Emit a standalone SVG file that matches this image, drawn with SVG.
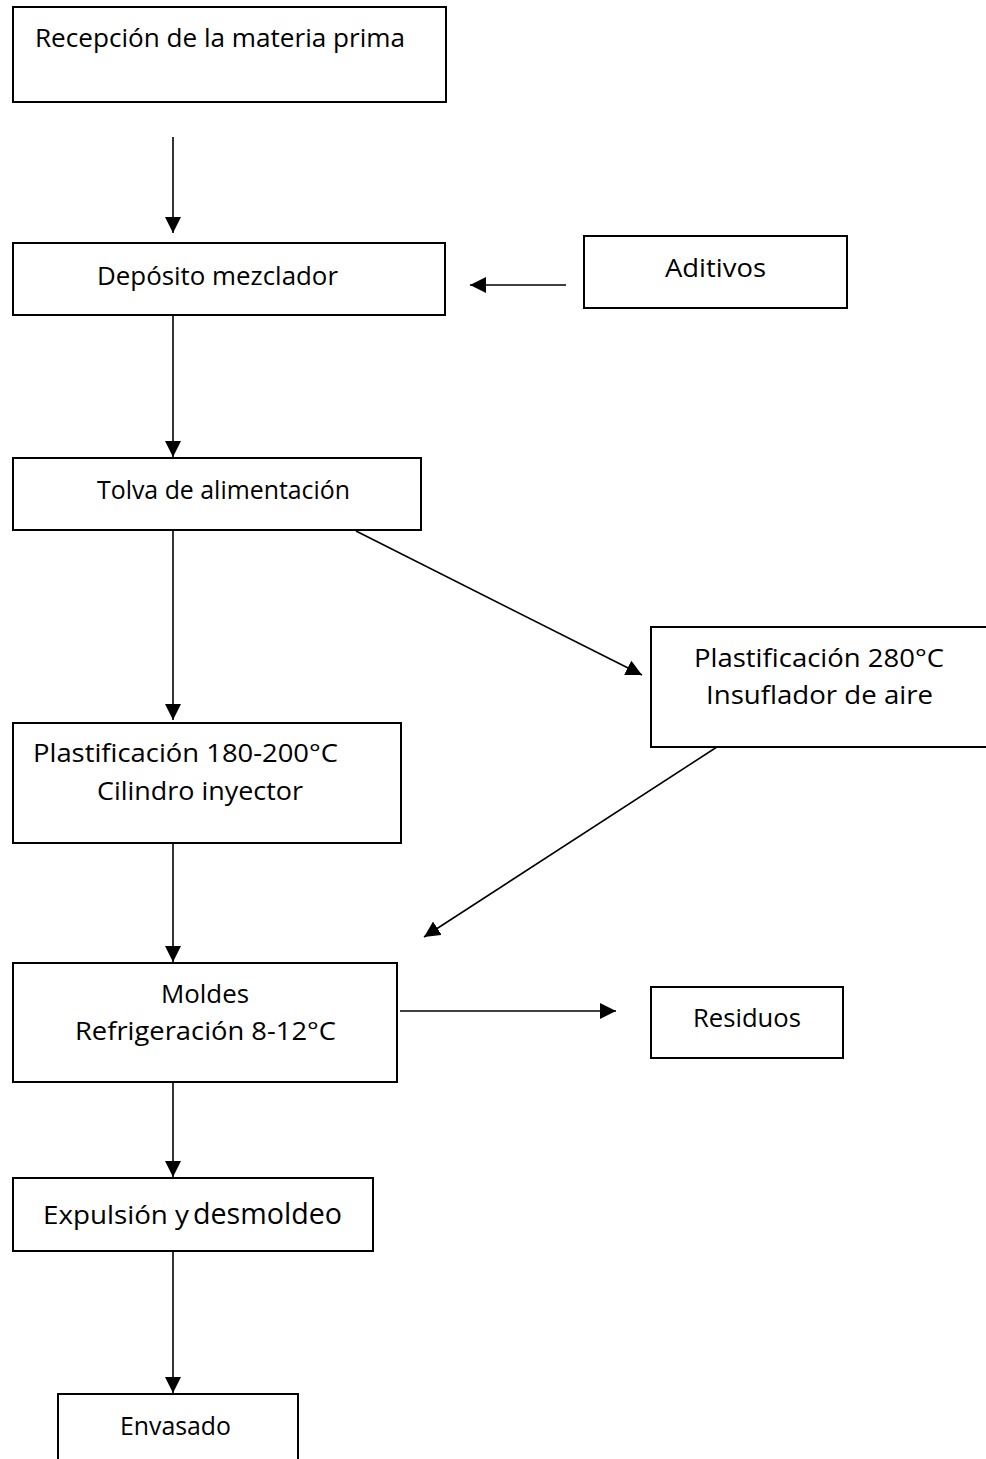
<svg xmlns="http://www.w3.org/2000/svg" width="986" height="1459" viewBox="0 0 986 1459">
  <style>
    .box { fill: #ffffff; stroke: #000000; stroke-width: 2; }
    .lbl { font-family: "Open Sans", "DejaVu Sans", sans-serif; font-size: 25px; fill: #000000; }
    .big { font-size: 29px; }
    .wire { stroke: #000000; stroke-width: 1.6; fill: none; marker-end: url(#head); }
  </style>
  <defs>
    <marker id="head" markerUnits="userSpaceOnUse" markerWidth="18" markerHeight="18" viewBox="0 0 18 18" refX="16" refY="8" orient="auto">
      <path d="M0,0 L16,8 L0,16 Z" fill="#000000"/>
    </marker>
  </defs>

  <rect width="986" height="1459" fill="#ffffff"/>

  <!-- connectors -->
  <g id="connectors">
    <line class="wire" x1="173" y1="137" x2="173" y2="233"/>
    <line class="wire" x1="173" y1="315" x2="173" y2="457"/>
    <line class="wire" x1="173" y1="530" x2="173" y2="720"/>
    <line class="wire" x1="173" y1="843" x2="173" y2="962"/>
    <line class="wire" x1="173" y1="1082" x2="173" y2="1177"/>
    <line class="wire" x1="173" y1="1251" x2="173" y2="1393"/>
    <line class="wire" x1="566" y1="285" x2="470" y2="285"/>
    <line class="wire" x1="356" y1="531" x2="642" y2="675"/>
    <line class="wire" x1="720" y1="745" x2="424" y2="937"/>
    <line class="wire" x1="400" y1="1011" x2="616" y2="1011"/>
  </g>

  <!-- process steps -->
  <g id="recepcion">
    <rect class="box" x="13" y="7" width="433" height="95"/>
    <text class="lbl" x="35" y="47" textLength="370" lengthAdjust="spacingAndGlyphs">Recepción de la materia prima</text>
  </g>

  <g id="deposito">
    <rect class="box" x="13" y="243" width="432" height="72"/>
    <text class="lbl" x="97" y="285" textLength="241" lengthAdjust="spacingAndGlyphs">Depósito mezclador</text>
  </g>

  <g id="aditivos">
    <rect class="box" x="584" y="236" width="263" height="72"/>
    <text class="lbl" x="665" y="277" textLength="101" lengthAdjust="spacingAndGlyphs">Aditivos</text>
  </g>

  <g id="tolva">
    <rect class="box" x="13" y="458" width="408" height="72"/>
    <text class="lbl" x="97" y="499" textLength="253" lengthAdjust="spacingAndGlyphs">Tolva de alimentación</text>
  </g>

  <g id="plastificacion-280">
    <rect class="box" x="651" y="627" width="345" height="120"/>
    <text class="lbl" x="694" y="667" textLength="250" lengthAdjust="spacingAndGlyphs">Plastificación 280°C</text>
    <text class="lbl" x="706" y="704" textLength="227" lengthAdjust="spacingAndGlyphs">Insuflador de aire</text>
  </g>

  <g id="plastificacion-180">
    <rect class="box" x="13" y="723" width="388" height="120"/>
    <text class="lbl" x="33" y="762" textLength="305" lengthAdjust="spacingAndGlyphs">Plastificación 180-200°C</text>
    <text class="lbl" x="97" y="800" textLength="206" lengthAdjust="spacingAndGlyphs">Cilindro inyector</text>
  </g>

  <g id="moldes">
    <rect class="box" x="13" y="963" width="384" height="119"/>
    <text class="lbl" x="161" y="1003" textLength="88" lengthAdjust="spacingAndGlyphs">Moldes</text>
    <text class="lbl" x="75" y="1040" textLength="261" lengthAdjust="spacingAndGlyphs">Refrigeración 8-12°C</text>
  </g>

  <g id="residuos">
    <rect class="box" x="651" y="987" width="192" height="71"/>
    <text class="lbl" x="693" y="1027" textLength="108" lengthAdjust="spacingAndGlyphs">Residuos</text>
  </g>

  <g id="expulsion">
    <rect class="box" x="13" y="1178" width="360" height="73"/>
    <text class="lbl" x="43" y="1224"><tspan textLength="146" lengthAdjust="spacingAndGlyphs">Expulsión y</tspan><tspan class="big" x="193" textLength="149" lengthAdjust="spacingAndGlyphs">desmoldeo</tspan></text>
  </g>

  <g id="envasado">
    <rect class="box" x="58" y="1394" width="240" height="75"/>
    <text class="lbl" x="120" y="1435" textLength="111" lengthAdjust="spacingAndGlyphs">Envasado</text>
  </g>
</svg>
